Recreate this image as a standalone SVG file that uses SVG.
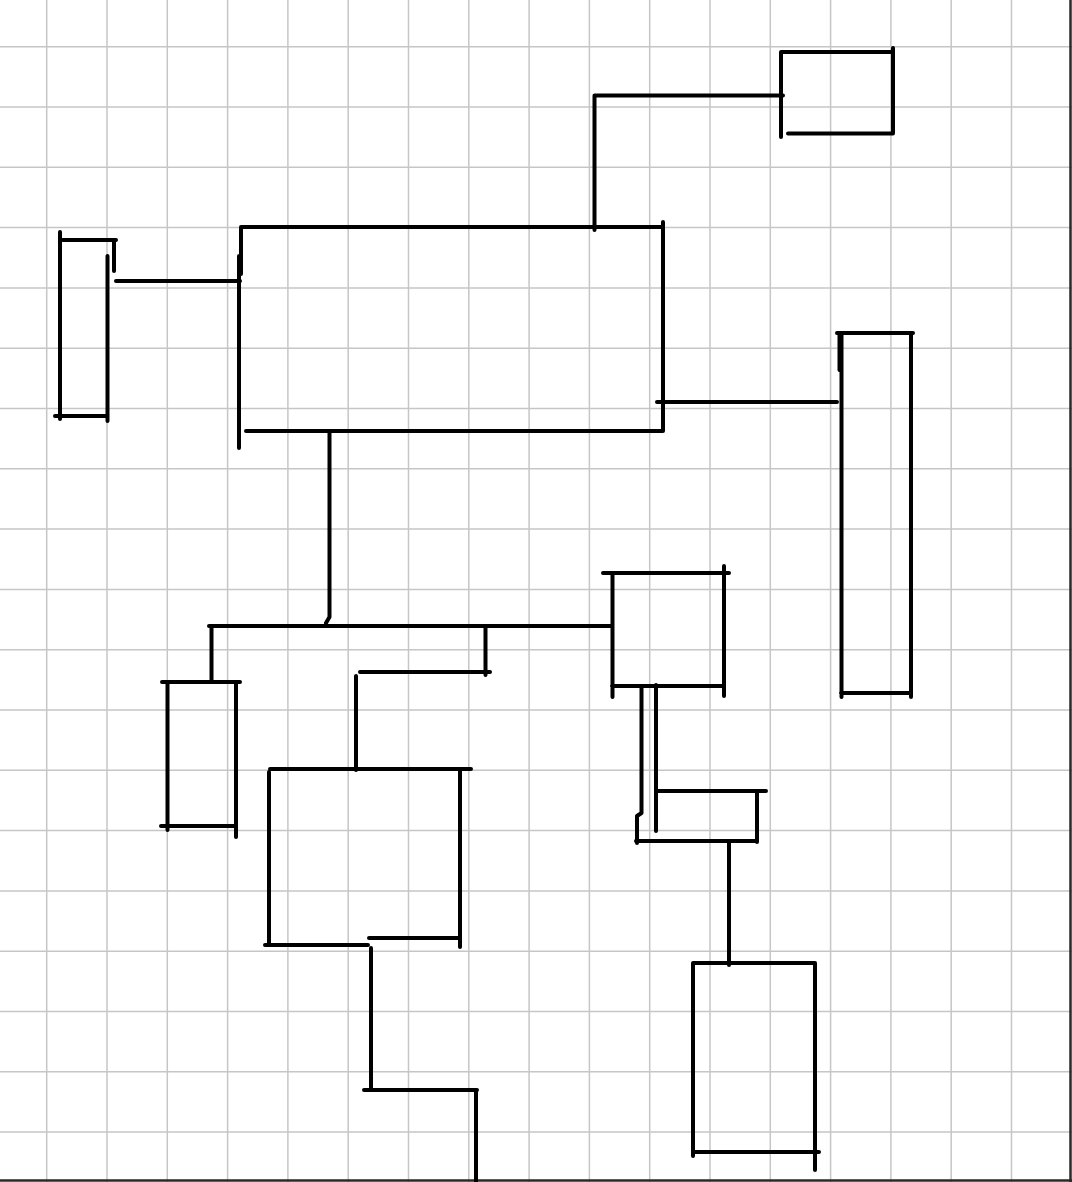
<svg xmlns="http://www.w3.org/2000/svg" width="1072" height="1182" viewBox="0 0 1072 1182">
<defs>
<style>
.grid{stroke:#c6c6c6;stroke-width:1.5;fill:none}
.frame{stroke:#2a2a2a;stroke-width:2.5;fill:none}
.ink{stroke:#000;stroke-width:4;fill:none;stroke-linecap:round;stroke-linejoin:round}
</style>
</defs>
<rect x="0" y="0" width="1072" height="1182" fill="#fff"/>
<g id="grid">
<path class="grid" d="M46.7 0V1182M107 0V1182M167.3 0V1182M227.6 0V1182M287.9 0V1182M348.2 0V1182M408.5 0V1182M468.8 0V1182M529.1 0V1182M589.4 0V1182M649.7 0V1182M710 0V1182M770.3 0V1182M830.6 0V1182M890.9 0V1182M951.2 0V1182M1011.5 0V1182"/>
<path class="grid" d="M0 46.7H1072M0 107H1072M0 167.3H1072M0 227.6H1072M0 287.9H1072M0 348.2H1072M0 408.5H1072M0 468.8H1072M0 529.1H1072M0 589.4H1072M0 649.7H1072M0 710H1072M0 770.3H1072M0 830.6H1072M0 890.9H1072M0 951.2H1072M0 1011.5H1072M0 1071.8H1072M0 1132.1H1072"/>
<path class="frame" d="M1070.5 0V1182M0 1180.5H1072"/>
</g>
<g id="node-left-small">
<path class="ink" d="M60 232V419M60 240H116M114 240V271M107.5 256V421M55 416H107.5"/>
</g>
<g id="node-main">
<path class="ink" d="M241 227V274M239 256V448M241 227H663M663 222V431M246 431H663"/>
</g>
<g id="node-top-right">
<path class="ink" d="M781 52V137M781 52H893M893 48V133M788 133.5H893"/>
</g>
<g id="node-tall-right">
<path class="ink" d="M837 333H913M839.5 333V370M841.5 333V697M911 333V697M841 693H911"/>
</g>
<g id="node-mid-right">
<path class="ink" d="M603 573H729M612.5 573V697M724 566V696M612 686H724"/>
</g>
<g id="node-left-lower">
<path class="ink" d="M162 682H240M167.5 682V830M236 682V837M161 826H236"/>
</g>
<g id="node-center-lower">
<path class="ink" d="M270 769H471M269 772V945M460 769V947M265 945H368M369 938H459"/>
</g>
<g id="node-small-right">
<path class="ink" d="M656 791H766M757 791V842M636 841H757"/>
</g>
<g id="node-bottom-right">
<path class="ink" d="M693 963H815M693 963V1156M815 963V1170M693 1152H819"/>
</g>
<g id="connectors">
<path class="ink" d="M116 281H240"/>
<path class="ink" d="M594.5 230V95.5H783"/>
<path class="ink" d="M657 402H837"/>
<path class="ink" d="M329.5 431V617L326 623"/>
<path class="ink" d="M209 626H612"/>
<path class="ink" d="M211.5 626V681"/>
<path class="ink" d="M485.5 626V675M360 672H490M356 676V770"/>
<path class="ink" d="M641.5 686V813L637 816V843M656 685V831"/>
<path class="ink" d="M729 842V965"/>
<path class="ink" d="M371 948V1090M364 1090H477M476 1090V1182"/>
</g>
</svg>
